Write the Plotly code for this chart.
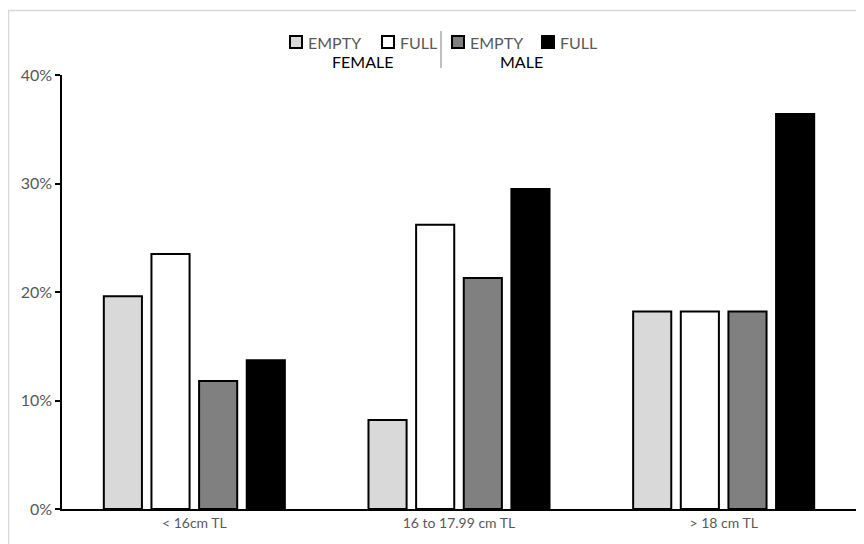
import plotly.graph_objects as go

categories = ["< 16cm TL", "16 to 17.99 cm TL", "> 18 cm TL"]
female_empty = [0.196, 0.082, 0.182]
female_full = [0.235, 0.262, 0.182]
male_empty = [0.118, 0.213, 0.182]
male_full = [0.137, 0.295, 0.364]

series = [
    ("FEMALE EMPTY", female_empty, "#D9D9D9"),
    ("FEMALE FULL", female_full, "#FFFFFF"),
    ("MALE EMPTY", male_empty, "#808080"),
    ("MALE FULL", male_full, "#000000"),
]

# page has an 8px body margin, so the figure is sized to fit inside it
OFF = 8
W, H = 856, 536
L, R, T, B = 54, 8, 67, 35
pw, ph = W - L - R, H - T - B


def px(x):
    # page pixel x -> paper coords
    return (x - OFF - L) / pw


def py(y):
    # page pixel y -> paper coords
    return (H - B - (y - OFF)) / ph


fig = go.Figure()
for name, vals, color in series:
    fig.add_trace(
        go.Bar(
            x=categories,
            y=vals,
            name=name,
            marker=dict(color=color, line=dict(color="#000000", width=2)),
            showlegend=False,
        )
    )

grey = "#595959"
font = "Lato, Open Sans, sans-serif"

# outer chart frame
fig.add_shape(
    type="rect", xref="paper", yref="paper",
    x0=px(8.5), x1=px(880), y0=py(560), y1=py(10.5),
    line=dict(color="#D9D9D9", width=1.5), fillcolor="rgba(0,0,0,0)", layer="below",
)

# hand-built legend
legend_items = [
    (290, "#D9D9D9", "EMPTY"),
    (382, "#FFFFFF", "FULL"),
    (452, "#808080", "EMPTY"),
    (542, "#000000", "FULL"),
]
for x, color, label in legend_items:
    fig.add_shape(
        type="rect", xref="paper", yref="paper",
        x0=px(x), x1=px(x + 12), y0=py(48), y1=py(36),
        line=dict(color="#000000", width=2), fillcolor=color,
    )
    fig.add_annotation(
        x=px(x + 16), y=py(42.5), xref="paper", yref="paper",
        text=label, showarrow=False, xanchor="left", yanchor="middle",
        font=dict(family=font, size=16, color=grey),
    )
for xc, label in [(362, "FEMALE"), (521, "MALE")]:
    fig.add_annotation(
        x=px(xc), y=py(61.5), xref="paper", yref="paper",
        text=label, showarrow=False, xanchor="center", yanchor="middle",
        font=dict(family=font, size=16, color="#000000"),
    )
fig.add_shape(
    type="line", xref="paper", yref="paper",
    x0=px(441), x1=px(441), y0=py(31), y1=py(68),
    line=dict(color="#808080", width=1),
)

fig.update_layout(
    width=W, height=H,
    margin=dict(l=L, r=R, t=T, b=B),
    paper_bgcolor="white", plot_bgcolor="white",
    barmode="group", bargap=0.28, bargroupgap=0.2,
    font=dict(family=font, color=grey),
)
fig.update_xaxes(
    showline=True, linecolor="#000000", linewidth=1.5,
    showgrid=False, ticks="", tickfont=dict(size=14, color=grey),
)
fig.update_yaxes(
    range=[0, 0.4], dtick=0.1, tickformat=".0%",
    showline=True, linecolor="#000000", linewidth=1.5,
    showgrid=False, zeroline=False, ticks="outside", ticklen=5,
    tickcolor="#000000", tickwidth=1.5,
    tickfont=dict(size=16, color=grey),
)

fig.write_html("out.html")
